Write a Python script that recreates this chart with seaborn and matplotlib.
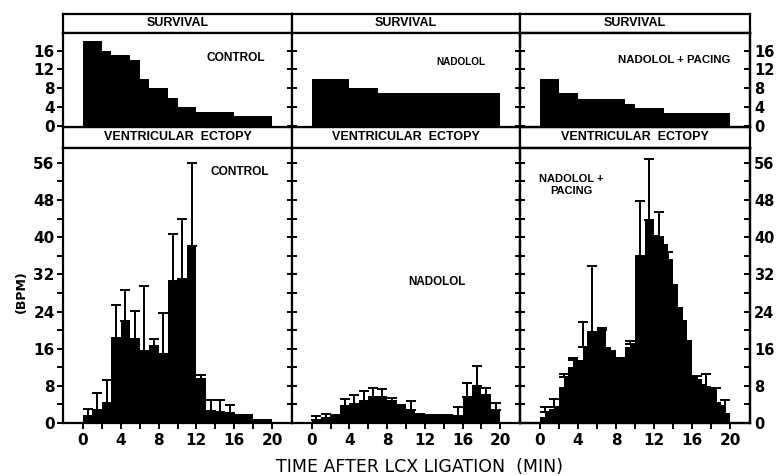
import numpy as np
import pandas as pd
import matplotlib
matplotlib.use("Agg")
import matplotlib.pyplot as plt
import seaborn as sns

sns.set_theme(style="white")
plt.rcParams['font.family'] = ['DejaVu Sans']
plt.rcParams['text.color'] = 'black'
plt.rcParams['axes.labelcolor'] = 'black'
plt.rcParams['xtick.color'] = 'black'
plt.rcParams['ytick.color'] = 'black'

# ---------------- data ----------------
minutes = list(range(20))                    # 1-min bins starting at 0..19
half_minutes = [i * 0.5 for i in range(40)]  # 0.5-min bins for pacing ectopy

surv_control = [18, 18, 16, 15, 15, 14, 10, 8, 8, 6, 4, 4, 3, 3, 3, 3, 2, 2, 2, 2]
surv_nadolol = [10, 10, 10, 10, 8, 8, 8, 7, 7, 7, 7, 7, 7, 7, 7, 7, 7, 7, 7, 7]
surv_pacing = [10, 10, 7, 7, 5.7, 5.7, 5.7, 5.7, 5.7, 4.6, 3.8, 3.8, 3.8,
               2.6, 2.6, 2.6, 2.6, 2.6, 2.6, 2.6]

ect_control = [1.4, 2.7, 4.2, 18.2, 22.0, 18.0, 15.6, 16.5, 14.9, 30.5,
               30.9, 38.0, 9.5, 2.6, 2.4, 2.2, 2.0, 2.0, 0.9, 0.9]
err_control = [3.1, 6.5, 9.2, 25.3, 28.7, 24.1, 29.4, 18.0, 23.7, 40.6,
               44.0, 56.0, 10.4, 4.9, 4.9, 3.8, np.nan, np.nan, np.nan, np.nan]

ect_nadolol = [0.7, 1.1, 1.4, 3.6, 4.0, 4.8, 5.7, 5.7, 4.7, 3.6,
               2.9, 1.8, 1.4, 1.4, 1.4, 1.4, 5.7, 7.9, 6.0, 2.9]
err_nadolol = [1.6, 2.0, 1.8, 5.2, 6.0, 6.8, 7.5, 7.3, 5.4, 3.8,
               4.7, 2.0, 1.8, 1.8, 1.8, 3.4, 8.7, 12.2, 7.5, 4.4]

ect_pacing = [1.3, 2.4, 3.0, 3.4, 7.8, 9.9, 12.1, 13.5, 13.5, 16.4,
              19.6, 19.6, 19.8, 20.0, 16.4, 15.3, 14.2, 14.2, 16.4, 17.1,
              36.0, 36.0, 43.8, 43.8, 40.4, 40.0, 38.5, 35.0, 30.0, 25.0,
              22.1, 17.8, 9.9, 9.2, 8.5, 7.8, 7.4, 4.2, 3.8, 2.0]
err_pacing = [3.4, 5.2, 10.6, 14.1, 21.8, 33.7, 20.5, 15.5, np.nan, 17.6,
              47.7, 56.8, 45.4, 36.8, np.nan, np.nan, 10.2, 10.6, 7.6, 5.0]

surv_labels = ["CONTROL", "NADOLOL", "NADOLOL + PACING"]
ect_labels = ["CONTROL", "NADOLOL", "NADOLOL +\nPACING"]
x_ticks = [0, 4, 8, 12, 16, 20]
surv_ticks = [0, 4, 8, 12, 16]
ect_ticks = [0, 8, 16, 24, 32, 40, 48, 56]

# ---------------- layout ----------------
W, H = 777, 476
fig = plt.figure(figsize=(W / 100, H / 100), dpi=100)
fig.patch.set_facecolor("white")

LAB_FONT = ['Liberation Sans', 'DejaVu Sans']
TICK_FONT = ['DejaVu Sans']


def rect(x0, y0, x1, y1):
    return [x0 / W, 1 - y1 / H, (x1 - x0) / W, (y1 - y0) / H]


def ftext(x, y, s, **kw):
    fig.text(x / W, 1 - y / H, s, **kw)


def style_spines(ax):
    for sp in ax.spines.values():
        sp.set_visible(True)
        sp.set_linewidth(LW)
        sp.set_color("black")


def bold_ticks(ax, size):
    for lab in ax.get_yticklabels() + ax.get_xticklabels():
        lab.set_fontweight("bold")
        lab.set_family(TICK_FONT)
        lab.set_fontsize(size)


cols = [(63, 292), (292, 520), (520, 750)]
LW = 1.6

surv_sets = [surv_control, surv_nadolol, surv_pacing]
ect_sets = [(minutes, 1.0, ect_control, err_control),
            (minutes, 1.0, ect_nadolol, err_nadolol),
            (half_minutes, 0.5, ect_pacing, err_pacing)]

surv_label_pos = [(236, 58, 8.6), (461, 62, 7.2), (674, 60, 8.2)]
ect_label_pos = [(240, 172, 8.6), (437, 282, 8.4), (571, 185, 8.0)]

for i, (xa, xb) in enumerate(cols):
    # header strips
    for (ya, yb, title) in [(14, 33, "SURVIVAL"), (127, 148, "VENTRICULAR  ECTOPY")]:
        hax = fig.add_axes(rect(xa, ya, xb, yb))
        hax.set_xticks([])
        hax.set_yticks([])
        style_spines(hax)
        hax.text(0.5, 0.5, title, transform=hax.transAxes, ha="center",
                 va="center", fontsize=9, fontweight="bold", family=LAB_FONT,
                 color="black")

    # survival panel
    sax = fig.add_axes(rect(xa, 33, xb, 127))
    df_s = pd.DataFrame({"t": [m + 0.5 for m in minutes], "n": surv_sets[i]})
    sns.histplot(data=df_s, x="t", weights="n", binwidth=1, binrange=(0, 20),
                 element="step", fill=True, color="black", alpha=1,
                 linewidth=0, ax=sax)
    sax.set_xlim(-2.1, 22.1)
    sax.set_ylim(-0.3, 19.8)
    sax.set_xticks([])
    sax.set_yticks(surv_ticks)
    sax.set_xlabel("")
    sax.set_ylabel("")

    # ectopy panel
    eax = fig.add_axes(rect(xa, 148, xb, 423))
    starts, width, vals, errs = ect_sets[i]
    df_e = pd.DataFrame({"t": [s + width / 2 for s in starts], "v": vals})
    sns.histplot(data=df_e, x="t", weights="v", binwidth=width,
                 binrange=(0, 20),
                 element="step", fill=True, color="black", alpha=1,
                 linewidth=0, ax=eax)
    err_x = np.array([m + 0.5 for m in minutes])
    err_top = np.array(errs, dtype=float)
    if width == 1.0:
        base = np.array(vals, dtype=float)
    else:
        base = np.array(vals, dtype=float)[1::2]
    ok = ~np.isnan(err_top)
    base_ok = np.minimum(base[ok], err_top[ok])
    eax.errorbar(err_x[ok], base_ok,
                 yerr=[np.zeros(ok.sum()), err_top[ok] - base_ok],
                 fmt="none", ecolor="black", elinewidth=1.4, capsize=3.4,
                 capthick=1.4)
    eax.set_xlim(-2.1, 22.1)
    eax.set_ylim(0, 59.2)
    eax.set_xticks(x_ticks)
    eax.set_xticks([2, 6, 10, 14, 18], minor=True)
    eax.set_yticks(ect_ticks)
    eax.set_yticks([4, 12, 20, 28, 36, 44, 52], minor=True)
    eax.set_xlabel("")
    eax.set_ylabel("")

    for ax in (sax, eax):
        style_spines(ax)
        if i == 0:
            ax.tick_params(axis="y", which="both", direction="out", length=4,
                           width=1.4, left=True, right=False, labelleft=True,
                           labelright=False, pad=2)
        else:
            ax.tick_params(axis="y", which="both", direction="inout", length=7,
                           width=1.4, left=True, right=False, labelleft=False,
                           labelright=False)
        bold_ticks(ax, 11)
        if i == 2:
            tw = ax.twinx()
            tw.set_ylim(ax.get_ylim())
            tw.set_yticks(ax.get_yticks())
            tw.set_yticks(ax.get_yticks(minor=True), minor=True)
            tw.grid(False)
            tw.set_ylabel("")
            style_spines(tw)
            tw.tick_params(axis="y", which="both", direction="in", length=4,
                           width=1.4, left=False, right=True, labelleft=False,
                           labelright=True, pad=3)
            bold_ticks(tw, 10.5)
    eax.tick_params(axis="x", which="both", direction="out", length=4,
                    width=1.4, bottom=True, labelbottom=True, pad=3)
    bold_ticks(eax, 11)

    # panel labels
    lx, ly, fs = surv_label_pos[i]
    ftext(lx, ly, surv_labels[i], ha="center", va="center", fontsize=fs,
          fontweight="bold", family=LAB_FONT)
    lx, ly, fs = ect_label_pos[i]
    ftext(lx, ly, ect_labels[i], ha="center", va="center", fontsize=fs,
          fontweight="bold", family=LAB_FONT, linespacing=1.15)

ftext(419, 467, "TIME AFTER LCX LIGATION  (MIN)", ha="center", va="center",
      fontsize=12.5)
ftext(21, 292, "(BPM)", ha="center", va="center", rotation=90, fontsize=9,
      fontweight="bold")

fig.savefig("out.png", dpi=100, facecolor="white")
